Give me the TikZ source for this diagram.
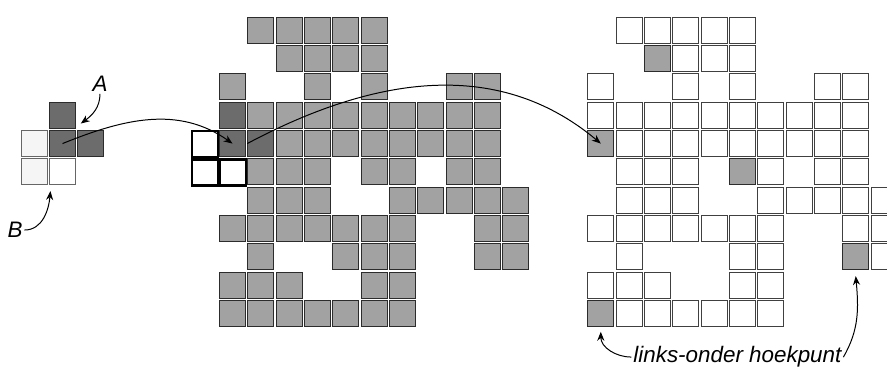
\documentclass[tikz,border=0pt]{standalone}
\usepackage{fontspec}
\setmainfont{Liberation Sans}
\usetikzlibrary{arrows.meta}

\definecolor{grijs}{HTML}{A2A2A2}
\definecolor{donker}{HTML}{6C6C6C}
\definecolor{rand}{HTML}{2C2C2C}

\tikzset{
  cel/.style={rectangle, draw=rand, line width=0.65pt, fill=grijs,
    minimum size=5.5mm, inner sep=0pt, anchor=north west},
  celdonker/.style={cel, fill=donker},
  celleeg/.style={cel, fill=white, draw=black!75},
  celvenster/.style={cel, fill=white, draw=black, line width=1.4pt},
  cellicht/.style={cel, fill=black!4, draw=black!60},
  pijl/.style={-{Stealth[length=1.9mm,width=1.5mm]}, line width=0.6pt},
  tekst/.style={font=\fontsize{13.5}{16}\selectfont\itshape, inner sep=1pt}
}

\begin{document}
\begin{tikzpicture}[x=6mm, y=6mm]
\useasboundingbox (-7.73,0.59) rectangle (23.58,-12.33);

% Klein venster
\node[celdonker] (l3-6) at (-6,-3) {};
\node[cellicht] (l4-7) at (-7,-4) {};
\node[celdonker] (l4-6) at (-6,-4) {};
\node[celdonker] (l4-5) at (-5,-4) {};
\node[cellicht] (l5-7) at (-7,-5) {};
\node[cel, fill=white, draw=black!60] (l5-6) at (-6,-5) {};

\node[tekst] (A) at (-4.2,-2.38) {A};
\node[tekst] (B) at (-7.2,-7.53) {B};

% Middelste rooster
\foreach \r/\cols in {0/{1,2,3,4,5}, 1/{2,3,4,5}, 2/{0,3,5,8,9},
		3/{1,2,3,4,5,6,7,8,9}, 4/{2,3,4,5,6,7,8,9}, 5/{1,2,3,5,6,8,9},
		6/{1,2,3,6,7,8,9,10}, 7/{0,1,2,3,4,5,6,9,10}, 8/{1,4,5,6,9,10},
		9/{0,1,2,5,6}, 10/{0,1,2,3,4,5,6}}
	\foreach \c in \cols
		\node[cel] (m\r-\c) at (\c,-\r) {};

\node[celdonker] (m3-0) at (0,-3) {};
\node[celdonker] (m4-0) at (0,-4) {};
\node[celdonker] (m4-1) at (1,-4) {};

\node[celvenster] (m4-l) at (-1,-4) {};
\node[celvenster] (m5-l) at (-1,-5) {};
\node[celvenster] (m5-0) at (0,-5) {};

% Rechter rooster
\begin{scope}[xshift=78mm]
	\foreach \r/\cols in {0/{1,2,3,4,5}, 1/{3,4,5}, 2/{0,3,5,8,9},
			3/{0,1,2,3,4,5,6,7,8,9}, 4/{1,2,3,4,5,6,7,8,9}, 5/{1,2,3,6,8,9},
			6/{1,2,3,6,7,8,9,10}, 7/{0,1,2,3,4,5,6,9,10}, 8/{1,5,6,10},
			9/{0,1,2,5,6}, 10/{1,2,3,4,5,6}}
		\foreach \c in \cols
			\node[celleeg] (r\r-\c) at (\c,-\r) {};

	\foreach \r/\c in {1/2, 4/0, 5/5, 8/9, 10/0}
		\node[cel] (r\r-\c) at (\c,-\r) {};
\end{scope}

\node[tekst, anchor=base] (hoek) at (18.3,-12.22) {links-onder hoekpunt};

% Pijlen
\draw[pijl] (l4-6.center) to[out=22, in=145] (m4-0.center);
\draw[pijl] (m4-1.west) to[out=28, in=140] (r4-0.center);
\draw[pijl] (A.south) to[out=-90, in=36] ([xshift=1mm,yshift=1.1mm]l3-6.south east);
\draw[pijl] (B.east) to[out=0, in=-95] ([xshift=0.3mm,yshift=-1.2mm]l5-6.south west);
\draw[pijl] (hoek.west) to[out=180, in=-90] ([yshift=-1mm]r10-0.south);
\draw[pijl] (hoek.east) to[out=60, in=-85] ([yshift=-1.2mm]r8-9.south);
\end{tikzpicture}
\end{document}
